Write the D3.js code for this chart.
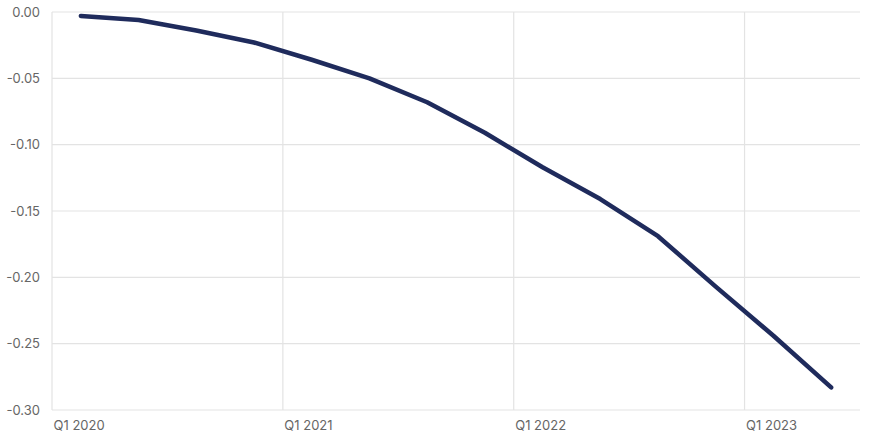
<!DOCTYPE html>
<html>
<head>
<meta charset="utf-8">
<script src="https://cdn.jsdelivr.net/npm/d3@7"></script>
<style>
  html, body { margin: 0; padding: 0; background: #fff; }
  svg { display: block; font-family: Inter, "Noto Sans", sans-serif; }
</style>
</head>
<body>
<svg id="chart" width="872" height="447"></svg>
<script>
// Quarter labels for each data point (points sit mid-quarter)
const quarters = ["Q1 2020","Q2 2020","Q3 2020","Q4 2020",
                  "Q1 2021","Q2 2021","Q3 2021","Q4 2021",
                  "Q1 2022","Q2 2022","Q3 2022","Q4 2022",
                  "Q1 2023","Q2 2023"];
const values = [-0.003, -0.006, -0.014, -0.023, -0.036, -0.050, -0.068,
                -0.091, -0.117, -0.141, -0.169, -0.207, -0.244, -0.283];
const xTickLabels = ["Q1 2020", "Q1 2021", "Q1 2022", "Q1 2023"];
const yTicks = [0, -0.05, -0.10, -0.15, -0.20, -0.25, -0.30];

const svg = d3.select("#chart");
const margin = {left: 52, right: 12, top: 12, bottom: 37};
const W = 872, H = 447;

const x = d3.scaleLinear().domain([0, quarters.length]).range([margin.left, W - margin.right]);
const y = d3.scaleLinear().domain([0, -0.30]).range([margin.top, H - margin.bottom]);

const xTickPos = xTickLabels.map(l => quarters.indexOf(l));

// horizontal gridlines
svg.append("g")
  .selectAll("line").data(yTicks).join("line")
  .attr("x1", margin.left).attr("x2", W - margin.right)
  .attr("y1", d => y(d)).attr("y2", d => y(d))
  .attr("stroke", "#e3e3e3").attr("stroke-width", 1.2);

// vertical gridlines
svg.append("g")
  .selectAll("line").data(xTickPos).join("line")
  .attr("x1", d => x(d)).attr("x2", d => x(d))
  .attr("y1", margin.top).attr("y2", y(-0.30))
  .attr("stroke", "#e3e3e3").attr("stroke-width", 1.2);

// y-axis labels (ASCII hyphen for negatives)
const fmt = d3.format(".2f");
const yAxis = d3.axisLeft(y).tickValues(yTicks)
  .tickFormat(d => fmt(d).replace("\u2212", "-")).tickSize(0).tickPadding(12);
svg.append("g").attr("transform", `translate(${margin.left},0)`).call(yAxis)
  .call(g => g.select(".domain").remove())
  .call(g => g.selectAll("text").attr("fill", "#666666").attr("font-size", 13)
    .attr("font-family", "Inter, 'Noto Sans', sans-serif"));

// x-axis labels (left aligned at tick)
const xAxis = d3.axisBottom(x).tickValues(xTickPos).tickFormat(d => quarters[d]).tickSize(0).tickPadding(11);
svg.append("g").attr("transform", `translate(0,${y(-0.30)})`).call(xAxis)
  .call(g => g.select(".domain").remove())
  .call(g => g.selectAll("text").attr("fill", "#666666").attr("font-size", 13)
    .attr("text-anchor", "start").attr("dx", 1)
    .attr("font-family", "Inter, 'Noto Sans', sans-serif"));

// line
const line = d3.line()
  .x((d, i) => x(i + 0.5))
  .y(d => y(d))
  .curve(d3.curveLinear);

svg.append("path").datum(values)
  .attr("d", line)
  .attr("fill", "none")
  .attr("stroke", "#1f2b5c")
  .attr("stroke-width", 4.5)
  .attr("stroke-linecap", "round")
  .attr("stroke-linejoin", "round");
</script>
</body>
</html>
